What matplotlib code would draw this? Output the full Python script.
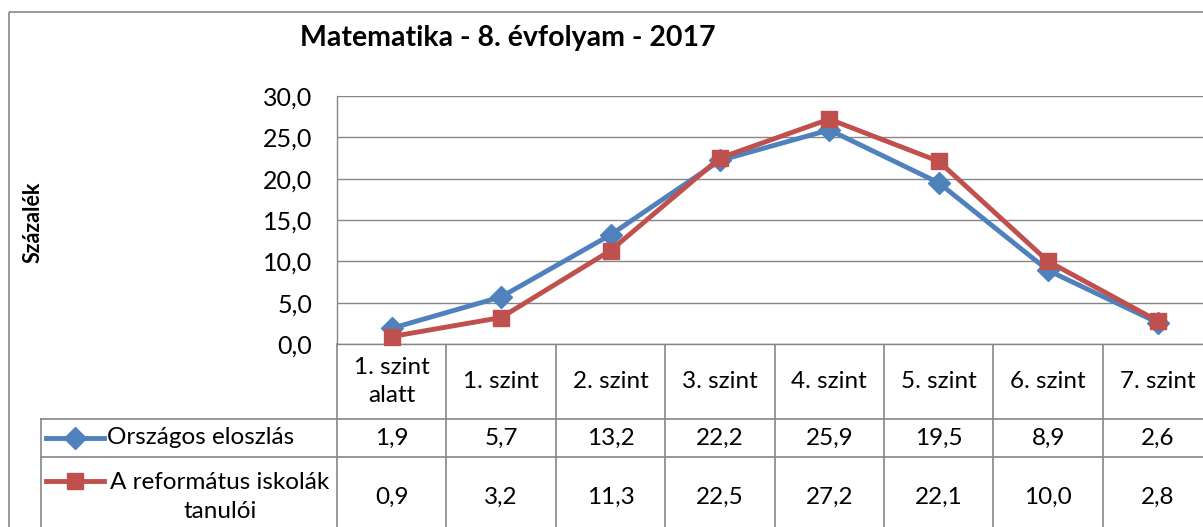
import matplotlib
matplotlib.use('Agg')
import matplotlib.pyplot as plt
from matplotlib.patches import Rectangle
from matplotlib.ticker import FuncFormatter, MultipleLocator
import matplotlib.transforms as mtransforms

# data
categories = ['1. szint\nalatt', '1. szint', '2. szint', '3. szint',
              '4. szint', '5. szint', '6. szint', '7. szint']
orszagos = [1.9, 5.7, 13.2, 22.2, 25.9, 19.5, 8.9, 2.6]
reformatus = [0.9, 3.2, 11.3, 22.5, 27.2, 22.1, 10.0, 2.8]
series_names = ['Országos eloszlás', 'A református iskolák\ntanulói']

BLUE = '#4F81BD'
RED = '#C0504D'
GRID = '#868686'
W, H = 1203, 527

plt.rcParams['font.family'] = ['Lato', 'DejaVu Sans']


def comma(v):
    return '{:.1f}'.format(v).replace('.', ',')


fig = plt.figure(figsize=(W / 100, H / 100), dpi=100)

# overlay in pixel coordinates for the frame and the table
over = fig.add_axes([0, 0, 1, 1])
over.set_xlim(0, W)
over.set_ylim(H, 0)
over.axis('off')

# plot area: left 337px, top 96px, bottom 344px, column width ~109.4px
left_px, top_px, bot_px, col_w = 337, 96, 344, 109.4
n = len(categories)
right_px = left_px + n * col_w
ax = fig.add_axes([left_px / W, (H - bot_px) / H,
                   (right_px - left_px) / W, (bot_px - top_px) / H])
ax.set_xlim(-0.5, n - 0.5)
ax.set_ylim(0, 30)
ax.yaxis.set_major_locator(MultipleLocator(5))
ax.yaxis.set_major_formatter(FuncFormatter(lambda v, p: comma(v)))
ax.grid(axis='y', color=GRID, linewidth=1)
ax.set_axisbelow(True)
ax.tick_params(axis='y', length=0, pad=18, labelsize=18)
ax.tick_params(axis='x', length=0, labelbottom=False)
for s in ['top', 'right']:
    ax.spines[s].set_visible(False)
for s in ['left', 'bottom']:
    ax.spines[s].set_color(GRID)
    ax.spines[s].set_linewidth(1)

x = list(range(n))
ax.plot(x, orszagos, color=BLUE, linewidth=3.5, marker='D', markersize=11,
        clip_on=False, zorder=3)
ax.plot(x, reformatus, color=RED, linewidth=3.5, marker='s', markersize=12,
        clip_on=False, zorder=4)

fig.text(33 / W, 1 - 222 / H, 'Százalék', rotation=90, ha='center',
         va='center', fontsize=15.5, fontweight='bold')
fig.text(508 / W, 1 - 38 / H, 'Matematika - 8. évfolyam - 2017',
         ha='center', va='center', fontsize=20.5, fontweight='bold')

# outer chart frame
over.add_patch(Rectangle((9, 12), W + 20, H + 20, fill=False,
                         edgecolor=GRID, linewidth=1.2, clip_on=False))

# data table
blend = mtransforms.blended_transform_factory(ax.transData, over.transData)
for yl in [419, 457]:
    over.plot([41, W], [yl, yl], color=GRID, linewidth=1.2)
over.plot([41, 41], [419, H], color=GRID, linewidth=1.2)
for i in range(n + 1):
    over.plot([i - 0.5, i - 0.5], [bot_px, H], color=GRID, linewidth=1.2,
              transform=blend)

tsize = 17.5
for i, c in enumerate(categories):
    over.text(i, (bot_px + 419) / 2, c, ha='center', va='center',
              fontsize=tsize, transform=blend, linespacing=1.45)
    over.text(i, 438, comma(orszagos[i]), ha='center', va='center',
              fontsize=tsize, transform=blend)
    over.text(i, 497, comma(reformatus[i]), ha='center', va='center',
              fontsize=tsize, transform=blend)

# legend keys inside the table
over.plot([46, 104], [438, 438], color=BLUE, linewidth=3.5)
over.plot([75], [438], color=BLUE, marker='D', markersize=11)
over.plot([46, 104], [481, 481], color=RED, linewidth=3.5)
over.plot([75], [481], color=RED, marker='s', markersize=12)
over.text(107, 438, series_names[0], ha='left', va='center', fontsize=tsize)
over.text(220, 497, series_names[1], ha='center', va='center',
          fontsize=tsize, multialignment='center', linespacing=1.45)

fig.savefig('out.png', dpi=100)
